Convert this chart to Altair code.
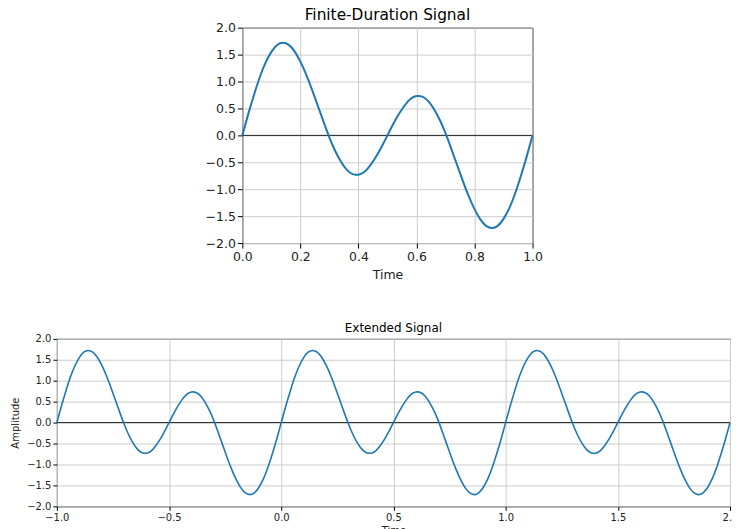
import altair as alt
import pandas as pd

# Sample times of the finite-duration signal (one period, 0..1)
time = [0.00, 0.02, 0.04, 0.06, 0.08, 0.10, 0.12, 0.14, 0.16, 0.18,
        0.20, 0.22, 0.24, 0.26, 0.28, 0.30, 0.32, 0.34, 0.36, 0.38,
        0.40, 0.42, 0.44, 0.46, 0.48, 0.50, 0.52, 0.54, 0.56, 0.58,
        0.60, 0.62, 0.64, 0.66, 0.68, 0.70, 0.72, 0.74, 0.76, 0.78,
        0.80, 0.82, 0.84, 0.86, 0.88, 0.90, 0.92, 0.94, 0.96, 0.98, 1.00]

# Amplitude values
amplitude = [0.00, 0.39, 0.75, 1.08, 1.35, 1.55, 1.68, 1.72, 1.68, 1.56,
             1.37, 1.13, 0.85, 0.55, 0.25, -0.04, -0.29, -0.49, -0.64, -0.72,
             -0.73, -0.68, -0.56, -0.40, -0.21, 0.00, 0.21, 0.40, 0.56, 0.68,
             0.73, 0.72, 0.64, 0.49, 0.29, 0.04, -0.25, -0.55, -0.85, -1.13,
             -1.37, -1.56, -1.68, -1.72, -1.68, -1.55, -1.35, -1.08, -0.75, -0.39,
             0.00]

# Periods shown in the extended plot
period_shifts = [-1, 0, 1]

top_x_ticks = [0.0, 0.2, 0.4, 0.6, 0.8, 1.0]
bottom_x_ticks = [-1.0, -0.5, 0.0, 0.5, 1.0, 1.5, 2.0]
y_ticks = [-2.0, -1.5, -1.0, -0.5, 0.0, 0.5, 1.0, 1.5, 2.0]

df_top = pd.DataFrame({"Time": time, "Amplitude": amplitude})

ext_t, ext_a = [], []
for k, s in enumerate(period_shifts):
    for i, (t, a) in enumerate(zip(time, amplitude)):
        if k > 0 and i == 0:
            continue
        ext_t.append(round(t + s, 2))
        ext_a.append(a)
df_ext = pd.DataFrame({"Time": ext_t, "Amplitude": ext_a})
df_zero = pd.DataFrame({"Amplitude": [0.0]})

LINE = "#1f77b4"
FONT = "DejaVu Sans"


def axis(values, fs, tick, title=None, title_pad=4):
    kw = dict(values=values, format=".1f", grid=True, gridColor="#cccccc",
              gridWidth=1, domain=False, tickColor="#000000", tickSize=tick,
              tickWidth=1, labelFont=FONT, labelFontSize=fs, labelColor="#222222",
              labelPadding=2, titleFont=FONT, titleFontSize=fs,
              titleFontWeight="normal", titleColor="#222222", titlePadding=title_pad,
              labelOverlap=False, labelFlush=False)
    kw["title"] = title
    return alt.Axis(**kw)


# ---- top chart ----
xs_top = alt.Scale(domain=[0, 1], nice=False, zero=False)
ys = alt.Scale(domain=[-2, 2], nice=False, zero=False)
yax_top = axis(y_ticks, 12.5, 5, title=None)
xax_top = axis(top_x_ticks, 12.5, 5, title="Time", title_pad=6)

zero_top = alt.Chart(df_zero).mark_rule(color="#222222", strokeWidth=1).encode(
    y=alt.Y("Amplitude:Q", scale=ys, axis=yax_top))
line_top = alt.Chart(df_top).mark_line(color=LINE, strokeWidth=2, interpolate="natural").encode(
    x=alt.X("Time:Q", scale=xs_top, axis=xax_top),
    y=alt.Y("Amplitude:Q", scale=ys, axis=yax_top))
top = alt.layer(zero_top, line_top).properties(
    width=291, height=216,
    title=alt.TitleParams("Finite-Duration Signal", font=FONT, fontSize=15.4,
                          fontWeight="normal", color="#000000", offset=-2),
    view=alt.ViewBackground(stroke="#000000", strokeWidth=1))

spacer = alt.Chart(df_zero).mark_rect(opacity=0).encode(
    x=alt.value(0), x2=alt.value(1), y=alt.value(0), y2=alt.value(1)).properties(
    width=148, height=1, view=alt.ViewBackground(stroke=None))

# ---- bottom chart ----
xs_bot = alt.Scale(domain=[-1, 2], nice=False, zero=False)
yax_bot = axis(y_ticks, 10, 4, title="Amplitude", title_pad=6)
xax_bot = axis(bottom_x_ticks, 10, 4, title="Time", title_pad=3)

zero_bot = alt.Chart(df_zero).mark_rule(color="#222222", strokeWidth=1).encode(
    y=alt.Y("Amplitude:Q", scale=ys, axis=yax_bot))
line_bot = alt.Chart(df_ext).mark_line(color=LINE, strokeWidth=1.6, interpolate="natural").encode(
    x=alt.X("Time:Q", scale=xs_bot, axis=xax_bot),
    y=alt.Y("Amplitude:Q", scale=ys, axis=yax_bot))
bottom = alt.layer(zero_bot, line_bot).properties(
    width=675, height=168,
    title=alt.TitleParams("Extended Signal", font=FONT, fontSize=12,
                          fontWeight="normal", color="#000000", offset=-1),
    view=alt.ViewBackground(stroke="#000000", strokeWidth=1))

chart = alt.vconcat(
    alt.hconcat(spacer, top, spacing=0),
    bottom,
    spacing=39,
).properties(padding={"left": 2, "top": -1, "right": -7, "bottom": 0}).configure(
    background="white")

chart.save("out.html", embed_options={"renderer": "svg", "actions": False})
